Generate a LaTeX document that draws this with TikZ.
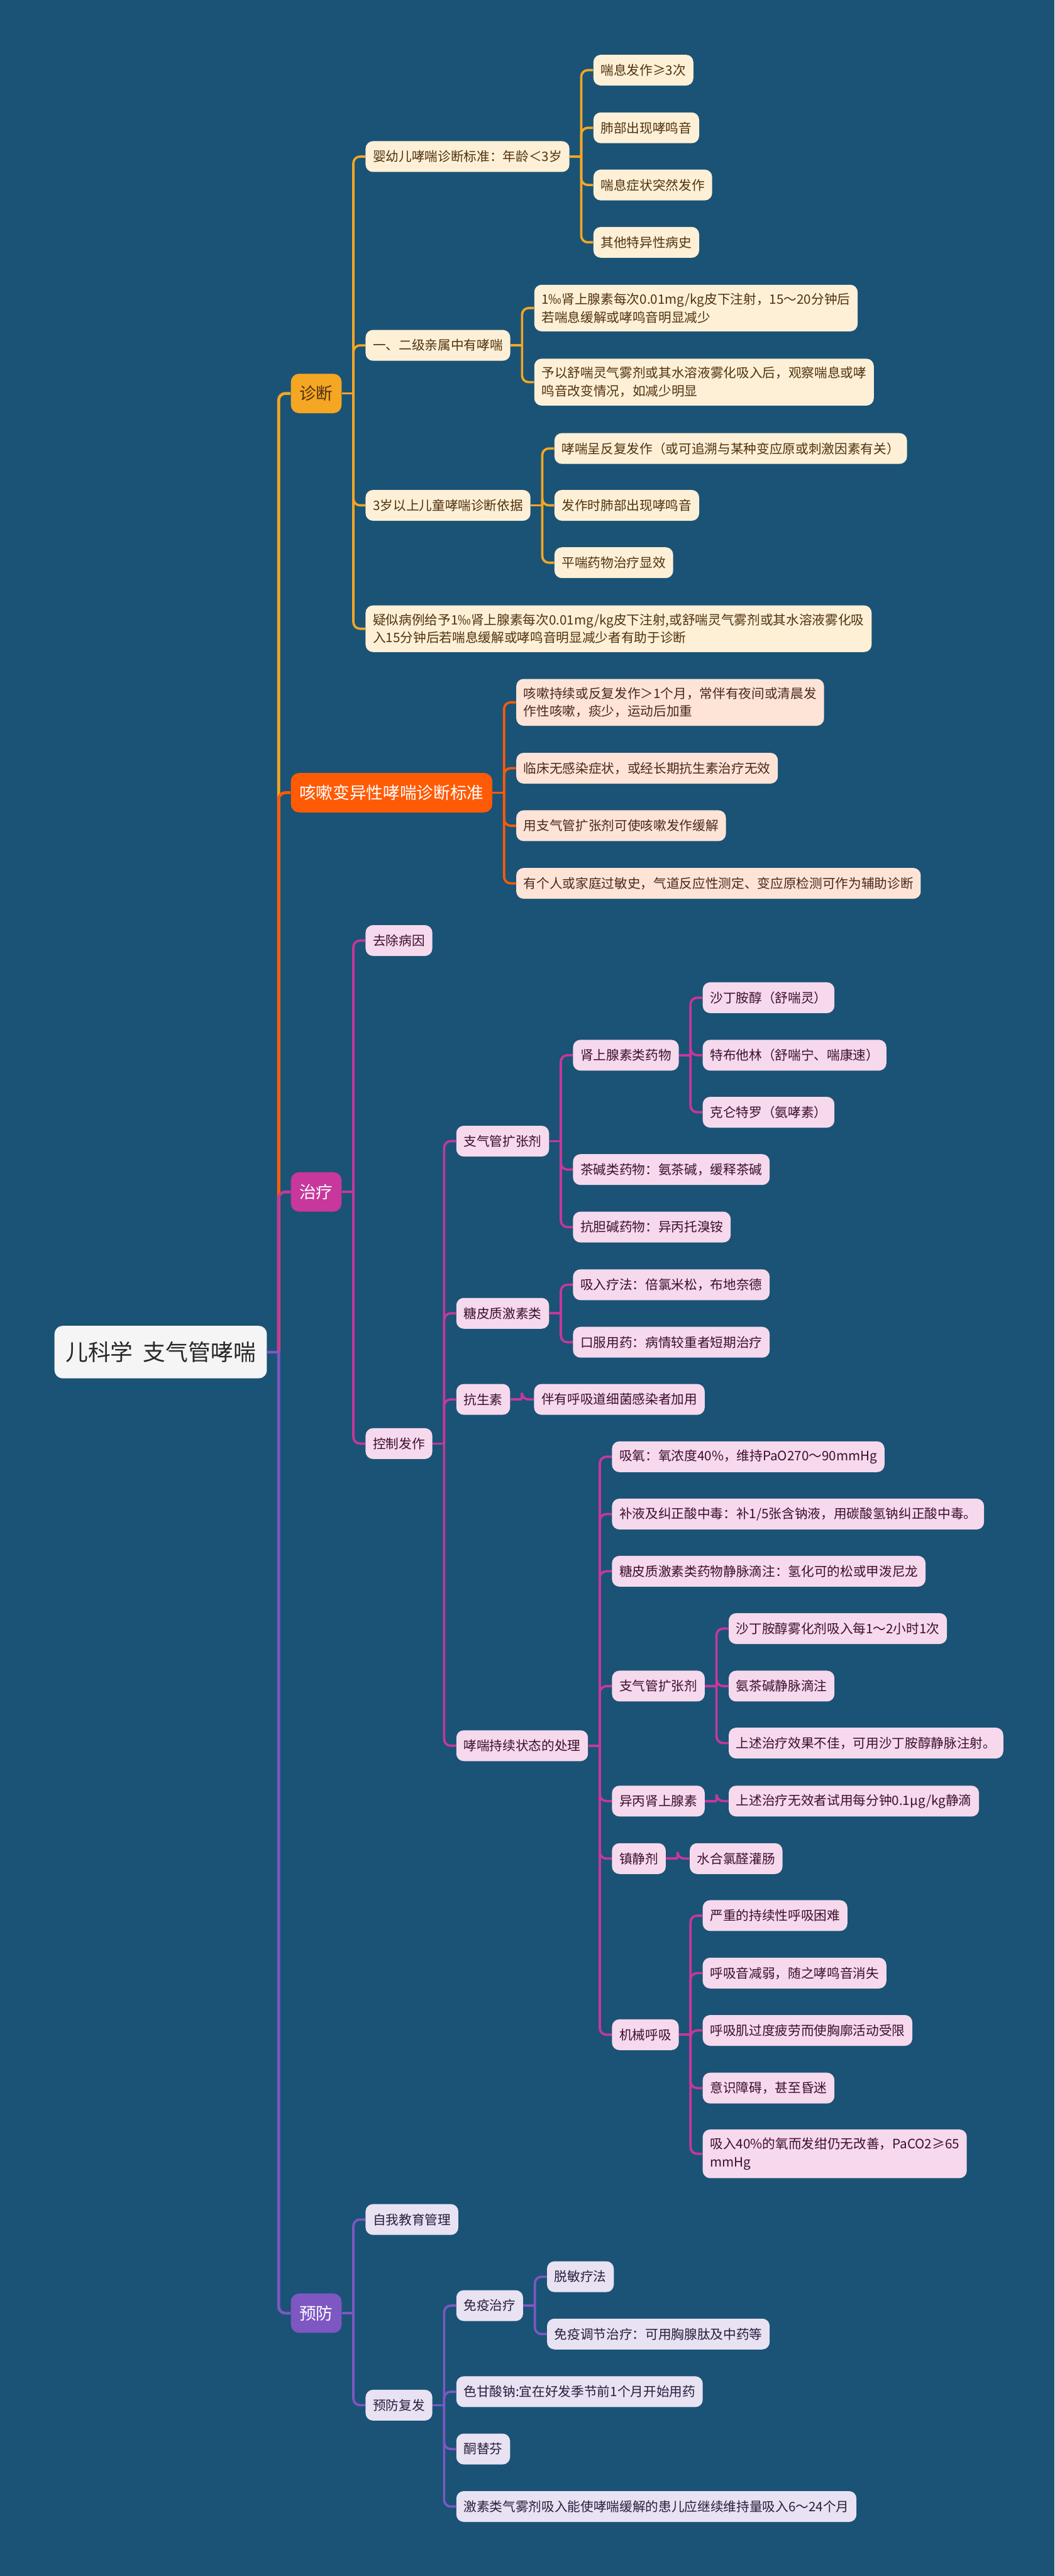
\documentclass[tikz,border=0pt]{standalone}
\usepackage{fontspec}
\setmainfont{Noto Sans CJK SC}
\usepackage{tikz}
\definecolor{bgblue}{RGB}{26,83,118}
\definecolor{rootfill}{RGB}{245,245,245}
\definecolor{rootink}{RGB}{40,40,40}
\definecolor{diagc}{RGB}{245,166,35}
\definecolor{diagfill}{RGB}{254,240,214}
\definecolor{diagink}{RGB}{80,50,15}
\definecolor{coughc}{RGB}{255,90,5}
\definecolor{coughfill}{RGB}{253,228,214}
\definecolor{coughink}{RGB}{75,40,25}
\definecolor{treatc}{RGB}{200,55,155}
\definecolor{treatfill}{RGB}{246,217,236}
\definecolor{treatink}{RGB}{60,15,45}
\definecolor{prevc}{RGB}{126,87,194}
\definecolor{prevfill}{RGB}{232,226,243}
\definecolor{prevink}{RGB}{40,30,60}

\begin{document}
\begin{tikzpicture}[x=0.04cm,y=-0.04cm,
rootbox/.style={anchor=west,fill=rootfill,text=rootink,rounded corners=0.2cm,inner xsep=0.27cm,minimum height=1.28cm,font=\fontsize{15.6}{18}\selectfont},
topic/.style={anchor=west,rounded corners=0.2cm,inner xsep=0.21cm,minimum height=0.96cm,xshift=0.57cm,font=\fontsize{11.6}{14}\selectfont},
box/.style={anchor=west,rounded corners=0.18cm,inner xsep=0.18cm,inner ysep=0.2cm,minimum height=0.75cm,align=left,xshift=0.57cm,font=\fontsize{9}{12.5}\selectfont},
dbox/.style={box,fill=diagfill,text=diagink},
cbox/.style={box,fill=coughfill,text=coughink},
tbox/.style={box,fill=treatfill,text=treatink},
pbox/.style={box,fill=prevfill,text=prevink},
dline/.style={draw=diagc,line width=1.6pt,rounded corners=0.16cm},
cline/.style={draw=coughc,line width=1.6pt,rounded corners=0.16cm},
tline/.style={draw=treatc,line width=1.6pt,rounded corners=0.16cm},
pline/.style={draw=prevc,line width=1.6pt,rounded corners=0.16cm}]
\fill[bgblue] (0,0) rectangle (642,1568);
\useasboundingbox (0,0) rectangle (642,1568);

\node[rootbox] (root) at (33,823) {儿科学\ \ 支气管哮喘};
\node[topic,fill=diagc,text=diagink] (diag) at (root.east |- 0,239.5) {诊断};
\node[topic,fill=coughc,text=white] (cough) at (root.east |- 0,482.5) {咳嗽变异性哮喘诊断标准};
\node[topic,fill=treatc,text=white] (treat) at (root.east |- 0,725.5) {治疗};
\node[topic,fill=prevc,text=white] (prev) at (root.east |- 0,1408) {预防};

\node[dbox] (infant) at (diag.east |- 0,95.3) {婴幼儿哮喘诊断标准：年龄＜3岁};
\node[dbox] (kin) at (diag.east |- 0,210.2) {一、二级亲属中有哮喘};
\node[dbox] (older) at (diag.east |- 0,307.6) {3岁以上儿童哮喘诊断依据};
\node[dbox] (suspect) at (diag.east |- 0,382.7) {疑似病例给予1‰肾上腺素每次0.01mg/kg皮下注射,或舒喘灵气雾剂或其水溶液雾化吸\\入15分钟后若喘息缓解或哮鸣音明显减少者有助于诊断};
\node[dbox] (inf1) at (infant.east |- 0,42.7) {喘息发作≥3次};
\node[dbox] (inf2) at (infant.east |- 0,77.8) {肺部出现哮鸣音};
\node[dbox] (inf3) at (infant.east |- 0,112.6) {喘息症状突然发作};
\node[dbox] (inf4) at (infant.east |- 0,147.5) {其他特异性病史};
\node[dbox] (kin1) at (kin.east |- 0,187.5) {1‰肾上腺素每次0.01mg/kg皮下注射，15～20分钟后\\若喘息缓解或哮鸣音明显减少};
\node[dbox] (kin2) at (kin.east |- 0,232.6) {予以舒喘灵气雾剂或其水溶液雾化吸入后，观察喘息或哮\\鸣音改变情况，如减少明显};
\node[dbox] (old1) at (older.east |- 0,273) {哮喘呈反复发作（或可追溯与某种变应原或刺激因素有关）};
\node[dbox] (old2) at (older.east |- 0,307.6) {发作时肺部出现哮鸣音};
\node[dbox] (old3) at (older.east |- 0,342.5) {平喘药物治疗显效};

\node[cbox] (cv1) at (cough.east |- 0,427.5) {咳嗽持续或反复发作＞1个月，常伴有夜间或清晨发\\作性咳嗽，痰少，运动后加重};
\node[cbox] (cv2) at (cough.east |- 0,467.6) {临床无感染症状，或经长期抗生素治疗无效};
\node[cbox] (cv3) at (cough.east |- 0,502.6) {用支气管扩张剂可使咳嗽发作缓解};
\node[cbox] (cv4) at (cough.east |- 0,537.7) {有个人或家庭过敏史，气道反应性测定、变应原检测可作为辅助诊断};

\node[tbox] (cause) at (treat.east |- 0,572.5) {去除病因};
\node[tbox] (control) at (treat.east |- 0,878.7) {控制发作};
\node[tbox] (dil) at (control.east |- 0,694.6) {支气管扩张剂};
\node[tbox] (gluco) at (control.east |- 0,799.4) {糖皮质激素类};
\node[tbox] (abx) at (control.east |- 0,851.8) {抗生素};
\node[tbox] (status) at (control.east |- 0,1062.6) {哮喘持续状态的处理};
\node[tbox] (adren) at (dil.east |- 0,642.3) {肾上腺素类药物};
\node[tbox] (theo) at (dil.east |- 0,711.9) {茶碱类药物：氨茶碱，缓释茶碱};
\node[tbox] (antich) at (dil.east |- 0,746.9) {抗胆碱药物：异丙托溴铵};
\node[tbox] (salb) at (adren.east |- 0,607.3) {沙丁胺醇（舒喘灵）};
\node[tbox] (terb) at (adren.east |- 0,642.3) {特布他林（舒喘宁、喘康速）};
\node[tbox] (clen) at (adren.east |- 0,677) {克仑特罗（氨哮素）};
\node[tbox] (inh) at (gluco.east |- 0,782) {吸入疗法：倍氯米松，布地奈德};
\node[tbox] (oral) at (gluco.east |- 0,817) {口服用药：病情较重者短期治疗};
\node[tbox] (abx1) at (abx.east |- 0,851.8) {伴有呼吸道细菌感染者加用};
\node[tbox] (oxy) at (status.east |- 0,886.7) {吸氧：氧浓度40\%，维持PaO270～90mmHg};
\node[tbox] (fluid) at (status.east |- 0,921.6) {补液及纠正酸中毒：补1/5张含钠液，用碳酸氢钠纠正酸中毒。};
\node[tbox] (ivst) at (status.east |- 0,956.4) {糖皮质激素类药物静脉滴注：氢化可的松或甲泼尼龙};
\node[tbox] (dil2) at (status.east |- 0,1026.3) {支气管扩张剂};
\node[tbox] (iso) at (status.east |- 0,1096.3) {异丙肾上腺素};
\node[tbox] (sed) at (status.east |- 0,1131.3) {镇静剂};
\node[tbox] (vent) at (status.east |- 0,1238.5) {机械呼吸};
\node[tbox] (neb) at (dil2.east |- 0,991.3) {沙丁胺醇雾化剂吸入每1～2小时1次};
\node[tbox] (amino) at (dil2.east |- 0,1026.3) {氨茶碱静脉滴注};
\node[tbox] (ivsalb) at (dil2.east |- 0,1061) {上述治疗效果不佳，可用沙丁胺醇静脉注射。};
\node[tbox] (iso1) at (iso.east |- 0,1096.3) {上述治疗无效者试用每分钟0.1μg/kg静滴};
\node[tbox] (sed1) at (sed.east |- 0,1131.3) {水合氯醛灌肠};
\node[tbox] (vent1) at (vent.east |- 0,1166) {严重的持续性呼吸困难};
\node[tbox] (vent2) at (vent.east |- 0,1201) {呼吸音减弱，随之哮鸣音消失};
\node[tbox] (vent3) at (vent.east |- 0,1235.9) {呼吸肌过度疲劳而使胸廓活动受限};
\node[tbox] (vent4) at (vent.east |- 0,1271) {意识障碍，甚至昏迷};
\node[tbox] (vent5) at (vent.east |- 0,1311) {吸入40\%的氧而发绀仍无改善，PaCO2≥65\\mmHg};

\node[pbox] (selfed) at (prev.east |- 0,1351) {自我教育管理};
\node[pbox] (relapse) at (prev.east |- 0,1464) {预防复发};
\node[pbox] (immune) at (relapse.east |- 0,1403.4) {免疫治疗};
\node[pbox] (cromo) at (relapse.east |- 0,1455.8) {色甘酸钠:宜在好发季节前1个月开始用药};
\node[pbox] (keto) at (relapse.east |- 0,1490.7) {酮替芬};
\node[pbox] (inhst) at (relapse.east |- 0,1525.7) {激素类气雾剂吸入能使哮喘缓解的患儿应继续维持量吸入6～24个月};
\node[pbox] (desens) at (immune.east |- 0,1385.8) {脱敏疗法};
\node[pbox] (immreg) at (immune.east |- 0,1420.7) {免疫调节治疗：可用胸腺肽及中药等};

\foreach \t/\s in {diag/dline,cough/cline,treat/tline,prev/pline}{
  \draw[\s,line width=2pt] (root.east) -- ++(0.28cm,0);
  \draw[\s,line width=2pt] ([xshift=0.28cm]root.east) |- (\t.west);
}
\foreach \p/\kids in {diag/{infant,kin,older,suspect},infant/{inf1,inf2,inf3,inf4},kin/{kin1,kin2},older/{old1,old2,old3}}{
  \draw[dline] (\p.east) -- ++(0.28cm,0);
  \foreach \k in \kids \draw[dline] ([xshift=0.28cm]\p.east) |- (\k.west);
}
\foreach \k in {cv1,cv2,cv3,cv4} \draw[cline] ([xshift=0.28cm]cough.east) |- (\k.west);
\draw[cline] (cough.east) -- ++(0.28cm,0);
\foreach \p/\kids in {treat/{cause,control},control/{dil,gluco,abx,status},dil/{adren,theo,antich},adren/{salb,terb,clen},gluco/{inh,oral},abx/{abx1},status/{oxy,fluid,ivst,dil2,iso,sed,vent},dil2/{neb,amino,ivsalb},iso/{iso1},sed/{sed1},vent/{vent1,vent2,vent3,vent4,vent5}}{
  \draw[tline] (\p.east) -- ++(0.28cm,0);
  \foreach \k in \kids \draw[tline] ([xshift=0.28cm]\p.east) |- (\k.west);
}
\foreach \p/\kids in {prev/{selfed,relapse},relapse/{immune,cromo,keto,inhst},immune/{desens,immreg}}{
  \draw[pline] (\p.east) -- ++(0.28cm,0);
  \foreach \k in \kids \draw[pline] ([xshift=0.28cm]\p.east) |- (\k.west);
}
\end{tikzpicture}
\end{document}
